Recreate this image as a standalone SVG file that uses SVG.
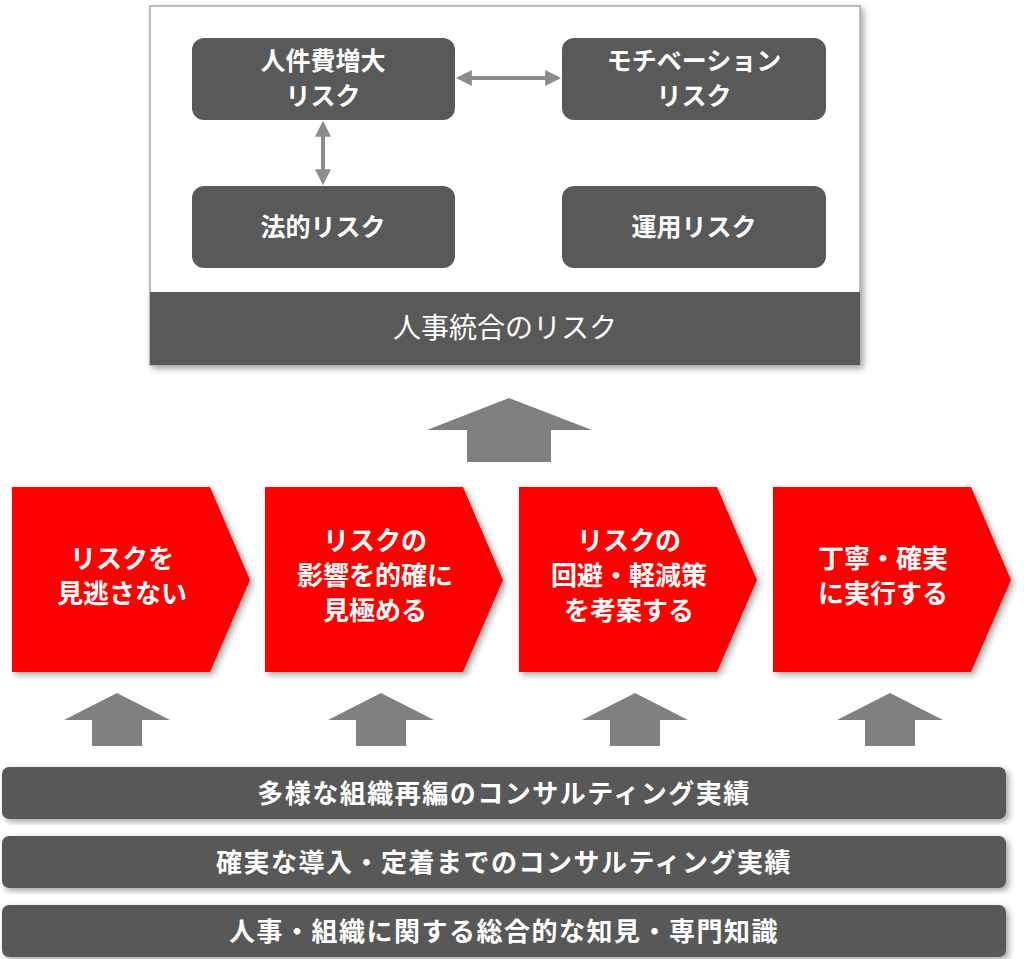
<svg xmlns="http://www.w3.org/2000/svg" width="1024" height="959" viewBox="0 0 1024 959">
<style>
.n{fill:#595959}
.t{font-family:"Noto Sans CJK JP","Noto Sans",sans-serif;font-weight:bold;fill:#fff;text-anchor:middle}
.r{fill:#ff0000}
.a{fill:#808080}
.c{stroke:#8c8c8c;stroke-width:4;fill:none}
.bb{font-size:26px;letter-spacing:1.5px}
</style>
<defs>
<marker id="m" viewBox="0 0 10 10" refX="8" refY="5" markerWidth="4" markerHeight="4" orient="auto-start-reverse"><path d="M0,0L10,5L0,10z" fill="#8c8c8c"/></marker>
<filter id="s" x="-5%" y="-5%" width="115%" height="115%"><feDropShadow dx="3" dy="3" stdDeviation="3" flood-opacity="0.35"/></filter>
</defs>
<g id="risk-box">
<rect x="150" y="6" width="710" height="359" fill="#fff" stroke="#a6a6a6" stroke-width="1.5" filter="url(#s)"/>
<rect x="150" y="292" width="710" height="73" class="n"/>
<text x="505" y="338" class="t" style="font-weight:normal;font-size:28px">人事統合のリスク</text>
</g>
<g id="n1"><rect x="192" y="38" width="263" height="82" rx="12" class="n"/><text x="323" y="70" class="t" font-size="25">人件費増大</text><text x="323" y="105" class="t" font-size="25">リスク</text></g>
<g id="n2"><rect x="562" y="38" width="264" height="82" rx="12" class="n"/><text x="694" y="70" class="t" font-size="25">モチベーション</text><text x="694" y="105" class="t" font-size="25">リスク</text></g>
<g id="n3"><rect x="192" y="186" width="263" height="82" rx="12" class="n"/><text x="323" y="236" class="t" font-size="25">法的リスク</text></g>
<g id="n4"><rect x="562" y="186" width="264" height="82" rx="12" class="n"/><text x="694" y="236" class="t" font-size="25">運用リスク</text></g>
<g id="connectors">
<line x1="459" y1="78" x2="558" y2="78" class="c" marker-start="url(#m)" marker-end="url(#m)"/>
<line x1="323" y1="124" x2="323" y2="182" class="c" marker-start="url(#m)" marker-end="url(#m)"/>
<path class="a" d="M509,398L592,430L551,430L551,462L467,462L467,430L427,430z"/>
<path class="a" d="M117,693L170,720L142,720L142,746L92,746L92,720L64,720z"/>
<path class="a" d="M381,693L434,720L406,720L406,746L356,746L356,720L328,720z"/>
<path class="a" d="M635,693L688,720L660,720L660,746L610,746L610,720L582,720z"/>
<path class="a" d="M890,693L943,720L915,720L915,746L865,746L865,720L837,720z"/>
</g>
<g id="s1"><path class="r" filter="url(#s)" d="M12,487H210L250,580L210,672H12z"/><text x="122" y="568" class="t" font-size="26">リスクを</text><text x="122" y="603" class="t" font-size="26">見逃さない</text></g>
<g id="s2"><path class="r" filter="url(#s)" d="M265,487H463L503,580L463,672H265z"/><text x="375" y="550" class="t" font-size="26">リスクの</text><text x="375" y="585" class="t" font-size="26">影響を的確に</text><text x="375" y="620" class="t" font-size="26">見極める</text></g>
<g id="s3"><path class="r" filter="url(#s)" d="M519,487H717L757,580L717,672H519z"/><text x="629" y="550" class="t" font-size="26">リスクの</text><text x="629" y="585" class="t" font-size="26">回避・軽減策</text><text x="629" y="620" class="t" font-size="26">を考案する</text></g>
<g id="s4"><path class="r" filter="url(#s)" d="M773,487H971L1011,580L971,672H773z"/><text x="883" y="568" class="t" font-size="26">丁寧・確実</text><text x="883" y="603" class="t" font-size="26">に実行する</text></g>
<g id="b1"><rect x="2" y="767" width="1004" height="52" rx="7" class="n" filter="url(#s)"/><text x="504" y="803" class="t bb">多様な組織再編のコンサルティング実績</text></g>
<g id="b2"><rect x="2" y="836" width="1004" height="52" rx="7" class="n" filter="url(#s)"/><text x="504" y="872" class="t bb">確実な導入・定着までのコンサルティング実績</text></g>
<g id="b3"><rect x="2" y="905" width="1004" height="52" rx="7" class="n" filter="url(#s)"/><text x="504" y="941" class="t bb">人事・組織に関する総合的な知見・専門知識</text></g>
</svg>
